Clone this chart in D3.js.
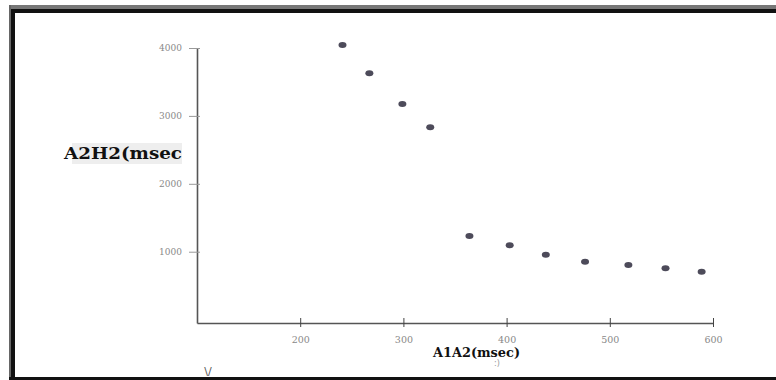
<!DOCTYPE html>
<html>
<head>
<meta charset="utf-8">
<script src="https://cdn.jsdelivr.net/npm/d3@7"></script>
<style>
  body { margin: 0; background: #fff; }
  svg { display: block; }
</style>
</head>
<body>
<div id="chart"></div>
<script>
// values
const a1a2 = [241, 267, 299, 326, 364, 403, 438, 476, 518, 554, 589];
const a2h2 = [4045, 3627, 3175, 2832, 1231, 1094, 955, 852, 804, 755, 705];
const xTicks = [200, 300, 400, 500, 600];
const yTicks = [1000, 2000, 3000, 4000];

const width = 776, height = 380;

const svg = d3.select('#chart')
  .append('svg')
  .attr('width', width)
  .attr('height', height);

// scanned frame
svg.append('rect').attr('x', 9).attr('y', 5).attr('width', width - 9).attr('height', 4).attr('fill', '#777');
svg.append('rect').attr('x', 9).attr('y', 9).attr('width', width - 9).attr('height', 4).attr('fill', '#111');
svg.append('rect').attr('x', 9).attr('y', 5).attr('width', 2).attr('height', height - 5).attr('fill', '#666');
svg.append('rect').attr('x', 11).attr('y', 9).attr('width', 4).attr('height', height - 9).attr('fill', '#111');
svg.append('rect').attr('x', 9).attr('y', 377).attr('width', width - 9).attr('height', 3).attr('fill', '#111');

const x = d3.scaleLinear().domain([100, 600]).range([197, 713]);
const y = d3.scaleLinear().domain([-50, 4000]).range([323, 48]);

// axes
const xAxis = svg.append('g')
  .attr('transform', `translate(0,${y(-50)})`)
  .call(d3.axisBottom(x).tickValues(xTicks).tickSize(0).tickPadding(13).tickFormat(d3.format('d')));
xAxis.select('.domain').attr('stroke', '#555').attr('stroke-width', 1.6);
xAxis.selectAll('.tick').append('line')
  .attr('y1', -5).attr('y2', 4)
  .attr('stroke', '#444').attr('stroke-width', 1);
xAxis.selectAll('text')
  .attr('fill', '#888')
  .style('font-family', '"DejaVu Serif", "Liberation Serif", serif')
  .style('font-size', '9.5px');

const yAxis = svg.append('g')
  .attr('transform', `translate(${x(100)},0)`)
  .call(d3.axisLeft(y).tickValues(yTicks).tickSize(0).tickPadding(15).tickFormat(d3.format('d')));
yAxis.select('.domain').attr('stroke', '#555').attr('stroke-width', 1.6);
yAxis.selectAll('.tick').append('line')
  .attr('x1', -8).attr('x2', 3)
  .attr('stroke', '#999').attr('stroke-width', 1);
yAxis.selectAll('text')
  .attr('fill', '#888')
  .style('font-family', '"DejaVu Serif", "Liberation Serif", serif')
  .style('font-size', '9px');

// points
svg.selectAll('ellipse.pt')
  .data(a1a2.map((v, i) => [v, a2h2[i]]))
  .join('ellipse')
  .attr('class', 'pt')
  .attr('cx', d => x(d[0]))
  .attr('cy', d => y(d[1]))
  .attr('rx', 4)
  .attr('ry', 3)
  .attr('fill', '#4d4b5a');

// y title with its grey patch
svg.append('rect')
  .attr('x', 72).attr('y', 143).attr('width', 110).attr('height', 21)
  .attr('fill', '#eeeeee');
svg.append('text')
  .attr('x', 64).attr('y', 159)
  .attr('textLength', 118)
  .attr('lengthAdjust', 'spacingAndGlyphs')
  .style('font-family', '"DejaVu Serif", "Liberation Serif", serif')
  .style('font-weight', 'bold')
  .style('font-size', '16px')
  .attr('fill', '#111')
  .text('A2H2(msec');

// x title
svg.append('text')
  .attr('x', 433).attr('y', 357)
  .attr('textLength', 87)
  .attr('lengthAdjust', 'spacingAndGlyphs')
  .style('font-family', '"DejaVu Serif", "Liberation Serif", serif')
  .style('font-weight', 'bold')
  .style('font-size', '12px')
  .attr('fill', '#111')
  .text('A1A2(msec)');

// stray scan marks
svg.append('text')
  .attr('x', 497).attr('y', 366)
  .attr('text-anchor', 'middle')
  .style('font-family', '"DejaVu Sans", sans-serif')
  .style('font-size', '8px')
  .attr('fill', '#999')
  .text(':)');
svg.append('text')
  .attr('x', 208).attr('y', 375)
  .attr('text-anchor', 'middle')
  .style('font-family', '"DejaVu Sans", sans-serif')
  .style('font-size', '11px')
  .attr('fill', '#555')
  .text('\\/');
</script>
</body>
</html>
